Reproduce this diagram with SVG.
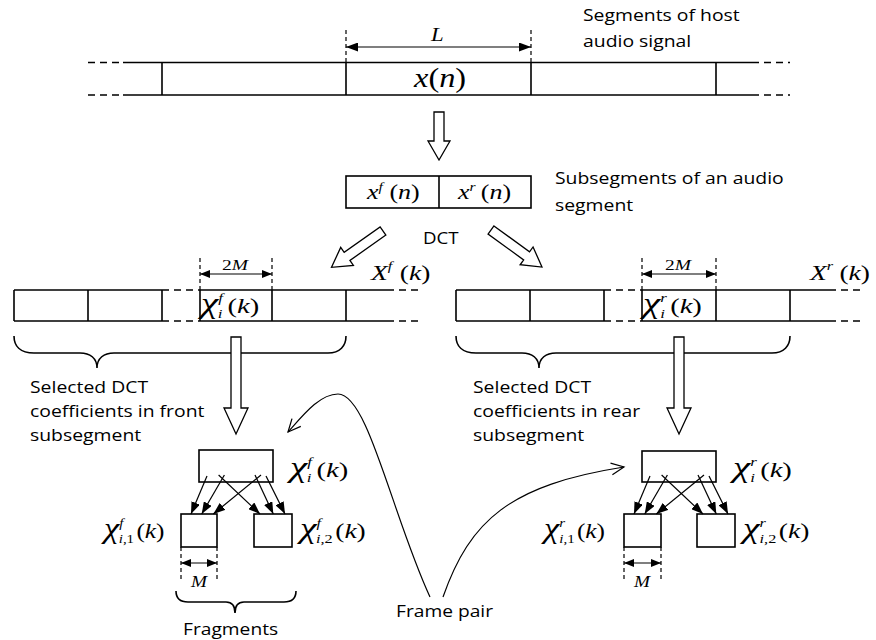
<svg xmlns="http://www.w3.org/2000/svg" width="876" height="640" viewBox="0 0 876 640">
<defs>
<style>
.ln{stroke:#000;stroke-width:1.6;fill:none}
.dh{stroke:#000;stroke-width:1.4;fill:none;stroke-dasharray:7,5}
.vd{stroke:#000;stroke-width:1.2;fill:none;stroke-dasharray:4,3}
.box{fill:#fff;stroke:#000;stroke-width:1.6}
.hol{fill:#fff;stroke:#000;stroke-width:1.3;stroke-linejoin:miter}
.ar{stroke:#000;stroke-width:1.2;fill:none}
.t{font-family:"Open Sans","Liberation Sans",sans-serif;font-size:17px;fill:#000}
.m{font-family:"Liberation Serif","Times New Roman",serif;fill:#000}
.i{font-style:italic}
</style>
<marker id="ah" viewBox="0 0 12 9" refX="12" refY="4.5" markerWidth="12" markerHeight="9" markerUnits="userSpaceOnUse" orient="auto-start-reverse">
<path d="M0,0 L12,4.5 L0,9 z" fill="#000"/>
</marker>
<marker id="ahs" viewBox="0 0 10 8" refX="10" refY="4" markerWidth="10" markerHeight="8" markerUnits="userSpaceOnUse" orient="auto-start-reverse">
<path d="M0,0 L10,4 L0,8 z" fill="#000"/>
</marker>
</defs>
<rect width="876" height="640" fill="#fff"/>

<!-- Host signal segments -->
<g id="host-signal">
<path class="dh" d="M88,62.5 H123 M752,62.5 H790 M88,95 H123 M752,95 H790"/>
<path class="ln" d="M123,62.5 H752 M123,95 H752 M162,62.5 V95 M346,62.5 V95 M531,62.5 V95 M716,62.5 V95"/>
<path class="vd" d="M346,30 V62 M531,30 V62"/>
<line class="ar" x1="346" y1="47" x2="531" y2="47" marker-start="url(#ah)" marker-end="url(#ah)"/>
<text class="m i" font-size="19" transform="translate(431,41) scale(1.2,1)">L</text>
<text class="m" font-size="27" transform="translate(414,87) scale(1.2,1)"><tspan class="i">x</tspan>(<tspan class="i">n</tspan>)</text>
<text class="t" transform="translate(583,21) scale(1.14,1)">Segments of host</text>
<text class="t" transform="translate(583,47) scale(1.14,1)">audio signal</text>
</g>

<!-- Subsegments -->
<g id="subsegments">
<rect class="box" x="346" y="176" width="185" height="32"/>
<line class="ln" x1="439" y1="176" x2="439" y2="208"/>
<text class="m" font-size="20" transform="translate(367,199) scale(1.3,1)"><tspan class="i">x</tspan><tspan class="i" font-size="12" dy="-8">f</tspan><tspan dx="5" dy="8">(</tspan><tspan class="i">n</tspan>)</text>
<text class="m" font-size="20" transform="translate(458,199) scale(1.3,1)"><tspan class="i">x</tspan><tspan class="i" font-size="12" dy="-8">r</tspan><tspan dx="4" dy="8">(</tspan><tspan class="i">n</tspan>)</text>
<text class="t" transform="translate(555,184) scale(1.14,1)">Subsegments of an audio</text>
<text class="t" transform="translate(555,211) scale(1.14,1)">segment</text>
</g>

<g id="dct-label">
<text class="t" transform="translate(423,244) scale(1.1,1)">DCT</text>
</g>

<!-- Front DCT coefficients -->
<g id="front-dct">
<path class="dh" d="M162,290 H200 M162,321 H200 M387,290 H422 M387,321 H422"/>
<path class="ln" d="M14,290 H162 M14,321 H162 M200,290 H387 M200,321 H387 M14,290 V321 M88,290 V321 M162,290 V321 M200,290 V321 M272,290 V321 M346,290 V321"/>
<path class="vd" d="M200,258 V290 M272,258 V290"/>
<line class="ar" x1="200" y1="274" x2="272" y2="274" marker-start="url(#ahs)" marker-end="url(#ahs)"/>
<text class="m" font-size="15" transform="translate(222,270) scale(1.3,1)">2<tspan class="i">M</tspan></text>
<text class="m" font-size="22" transform="translate(201,313) scale(1.3,1)"><tspan class="i" font-size="30">χ</tspan><tspan class="i" font-size="13" dy="-11">f</tspan><tspan class="i" font-size="13" dx="-4" dy="16">i</tspan><tspan dx="4" dy="-5">(</tspan><tspan class="i">k</tspan>)</text>
<text class="m" font-size="22" transform="translate(371,280) scale(1.25,1)"><tspan class="i">X</tspan><tspan class="i" font-size="13" dy="-10">f</tspan><tspan dx="6" dy="10">(</tspan><tspan class="i">k</tspan>)</text>
<path class="ln" d="M14,336 C14,346 20,353 34,353 L80,353 C90,353 97,358 97,368 C97,358 104,353 114,353 L328,353 C340,353 346,346 346,336"/>
<text class="t" transform="translate(30,393) scale(1.14,1)">Selected DCT</text>
<text class="t" transform="translate(30,417) scale(1.14,1)">coefficients in front</text>
<text class="t" transform="translate(30,441) scale(1.14,1)">subsegment</text>
</g>

<!-- Rear DCT coefficients -->
<g id="rear-dct">
<path class="dh" d="M604,290 H642 M604,321 H642 M829,290 H864 M829,321 H864"/>
<path class="ln" d="M456,290 H604 M456,321 H604 M642,290 H829 M642,321 H829 M456,290 V321 M530,290 V321 M604,290 V321 M642,290 V321 M716,290 V321 M790,290 V321"/>
<path class="vd" d="M642,258 V290 M716,258 V290"/>
<line class="ar" x1="642" y1="274" x2="716" y2="274" marker-start="url(#ahs)" marker-end="url(#ahs)"/>
<text class="m" font-size="15" transform="translate(665,270) scale(1.3,1)">2<tspan class="i">M</tspan></text>
<text class="m" font-size="22" transform="translate(643,313) scale(1.3,1)"><tspan class="i" font-size="30">χ</tspan><tspan class="i" font-size="13" dy="-11">r</tspan><tspan class="i" font-size="13" dx="-5" dy="16">i</tspan><tspan dx="4" dy="-5">(</tspan><tspan class="i">k</tspan>)</text>
<text class="m" font-size="22" transform="translate(810,280) scale(1.25,1)"><tspan class="i">X</tspan><tspan class="i" font-size="13" dy="-10">r</tspan><tspan dx="5" dy="10">(</tspan><tspan class="i">k</tspan>)</text>
<path class="ln" d="M456,336 C456,346 462,353 476,353 L522,353 C532,353 539,358 539,368 C539,358 546,353 556,353 L772,353 C784,353 790,346 790,336"/>
<text class="t" transform="translate(473,393) scale(1.14,1)">Selected DCT</text>
<text class="t" transform="translate(473,417) scale(1.14,1)">coefficients in rear</text>
<text class="t" transform="translate(473,441) scale(1.14,1)">subsegment</text>
</g>

<!-- Front fragments -->
<g id="front-fragments">
<rect class="box" x="199" y="450" width="74" height="32"/>
<text class="m" font-size="22" transform="translate(290,477) scale(1.3,1)"><tspan class="i" font-size="30">χ</tspan><tspan class="i" font-size="13" dy="-11">f</tspan><tspan class="i" font-size="13" dx="-4" dy="16">i</tspan><tspan dx="4" dy="-5">(</tspan><tspan class="i">k</tspan>)</text>
<rect class="box" x="181" y="514" width="36" height="33"/>
<rect class="box" x="254" y="514" width="38" height="33"/>
<text class="m" font-size="22" transform="translate(104,538) scale(1.15,1)"><tspan class="i" font-size="30">χ</tspan><tspan class="i" font-size="13" dy="-11">f</tspan><tspan font-size="13" dx="-4" dy="16"><tspan class="i">i</tspan>,1</tspan><tspan dx="2" dy="-5">(</tspan><tspan class="i">k</tspan>)</text>
<text class="m" font-size="22" transform="translate(300,538) scale(1.25,1)"><tspan class="i" font-size="30">χ</tspan><tspan class="i" font-size="13" dy="-11">f</tspan><tspan font-size="13" dx="-4" dy="16"><tspan class="i">i</tspan>,2</tspan><tspan dx="2" dy="-5">(</tspan><tspan class="i">k</tspan>)</text>
<path class="vd" d="M181,547 V582 M217,547 V582"/>
<line class="ar" x1="181" y1="563" x2="217" y2="563" marker-start="url(#ahs)" marker-end="url(#ahs)"/>
<text class="m i" font-size="16" transform="translate(191,587) scale(1.2,1)">M</text>
<path class="ln" d="M176,591 C176,598 180,602 188,602 L226,602 C232,602 235,606 235,613 C235,606 238,602 244,602 L284,602 C292,602 296,598 296,591"/>
<text class="t" transform="translate(183,635) scale(1.13,1)">Fragments</text>
</g>

<!-- Rear fragments -->
<g id="rear-fragments">
<rect class="box" x="642" y="451" width="74" height="31"/>
<text class="m" font-size="22" transform="translate(733,477) scale(1.3,1)"><tspan class="i" font-size="30">χ</tspan><tspan class="i" font-size="13" dy="-11">r</tspan><tspan class="i" font-size="13" dx="-5" dy="16">i</tspan><tspan dx="4" dy="-5">(</tspan><tspan class="i">k</tspan>)</text>
<rect class="box" x="624" y="514" width="37" height="33"/>
<rect class="box" x="697" y="514" width="38" height="33"/>
<text class="m" font-size="22" transform="translate(544,538) scale(1.15,1)"><tspan class="i" font-size="30">χ</tspan><tspan class="i" font-size="13" dy="-11">r</tspan><tspan font-size="13" dx="-5" dy="16"><tspan class="i">i</tspan>,1</tspan><tspan dx="2" dy="-5">(</tspan><tspan class="i">k</tspan>)</text>
<text class="m" font-size="22" transform="translate(743,538) scale(1.25,1)"><tspan class="i" font-size="30">χ</tspan><tspan class="i" font-size="13" dy="-11">r</tspan><tspan font-size="13" dx="-5" dy="16"><tspan class="i">i</tspan>,2</tspan><tspan dx="2" dy="-5">(</tspan><tspan class="i">k</tspan>)</text>
<path class="vd" d="M624,547 V582 M661,547 V582"/>
<line class="ar" x1="624" y1="563" x2="661" y2="563" marker-start="url(#ahs)" marker-end="url(#ahs)"/>
<text class="m i" font-size="16" transform="translate(634,587) scale(1.2,1)">M</text>
</g>

<g id="frame-pair">
<text class="t" transform="translate(396,617) scale(1.13,1)">Frame pair</text>
</g>

<!-- Connectors -->
<g id="connectors">
<polygon class="hol" points="434,112 444,112 444,141 450,141 439,160 428,141 434,141"/>
<polygon class="hol" points="0,-5 44,-5 44,-11 63,0 44,11 44,5 0,5" transform="translate(383,231) rotate(144.8)"/>
<polygon class="hol" points="0,-5 44,-5 44,-11 63,0 44,11 44,5 0,5" transform="translate(491,230) rotate(36)"/>
<polygon class="hol" points="231,337 241,337 241,408 248,408 236,434 224,408 231,408"/>
<polygon class="hol" points="674,337 684,337 684,408 691,408 679,434 667,408 674,408"/>
<g class="ar" marker-end="url(#ah)">
<line x1="207" y1="476" x2="191" y2="514"/>
<line x1="224.4" y1="475" x2="201.7" y2="514"/>
<line x1="261" y1="475" x2="213.3" y2="514"/>
<line x1="218.6" y1="475" x2="260" y2="514"/>
<line x1="255" y1="475" x2="273.3" y2="514"/>
<line x1="266" y1="476" x2="285" y2="514"/>
<line x1="650" y1="476" x2="634" y2="514"/>
<line x1="667.4" y1="475" x2="644.7" y2="514"/>
<line x1="704" y1="475" x2="656.3" y2="514"/>
<line x1="661.6" y1="475" x2="703" y2="514"/>
<line x1="698" y1="475" x2="716.3" y2="514"/>
<line x1="709" y1="476" x2="728" y2="514"/>
</g>
<path class="ar" d="M430,597 C392,515 368,394 338,394 C320,394 304,414 288,432"/>
<path class="ar" d="M292,418.6 L288,432 L300.8,426.4"/>
<path class="ar" d="M443,597 C470,520 510,485 624,467"/>
<path class="ar" d="M612.4,474.8 L624,467 L610.5,463.1"/>
</g>
</svg>
